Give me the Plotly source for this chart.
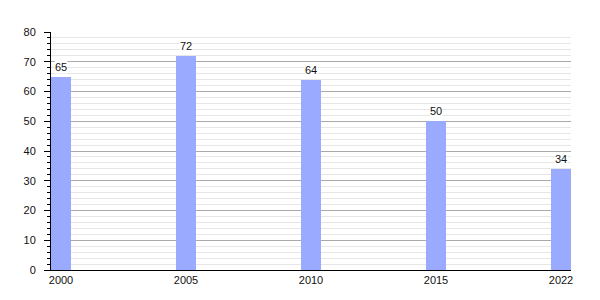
import plotly.graph_objects as go

years = ["2000", "2005", "2010", "2015", "2022"]
values = [65, 72, 64, 50, 34]

fig = go.Figure()
fig.add_trace(go.Bar(
    x=years, y=values, width=0.16,
    marker=dict(color="#99aaff", line=dict(width=0)),
    hoverinfo="skip",
))

for i, v in enumerate(values):
    fig.add_annotation(
        x=i, y=v, xref="x", yref="y", text=str(v), showarrow=False,
        yanchor="bottom", yshift=3,
        font=dict(family="Liberation Sans, Arial", size=11, color="#111"),
        bgcolor="white", borderpad=0,
    )

fig.update_layout(
    width=600, height=300,
    margin=dict(l=51, r=29, t=32, b=30),
    paper_bgcolor="white", plot_bgcolor="white",
    showlegend=False, bargap=0,
    font=dict(family="Liberation Sans, Arial", size=11, color="#111"),
)
fig.update_xaxes(
    type="category", range=[-0.08, 4.08],
    showline=True, linecolor="black", linewidth=1,
    showgrid=False, ticks="", tickfont=dict(size=11, color="#111"),
)
fig.update_yaxes(
    range=[0, 80], dtick=10, tick0=0,
    showline=True, linecolor="black", linewidth=1,
    ticks="outside", ticklen=6, tickcolor="black",
    ticklabelstandoff=6,
    showgrid=True, gridcolor="#aaaaaa", gridwidth=1,
    zeroline=False,
    tickfont=dict(size=11, color="#111"),
    minor=dict(dtick=2, showgrid=True, gridcolor="#e6e6e6", ticks="outside",
               ticklen=3, tickcolor="black"),
)

fig.write_html("out.html")
